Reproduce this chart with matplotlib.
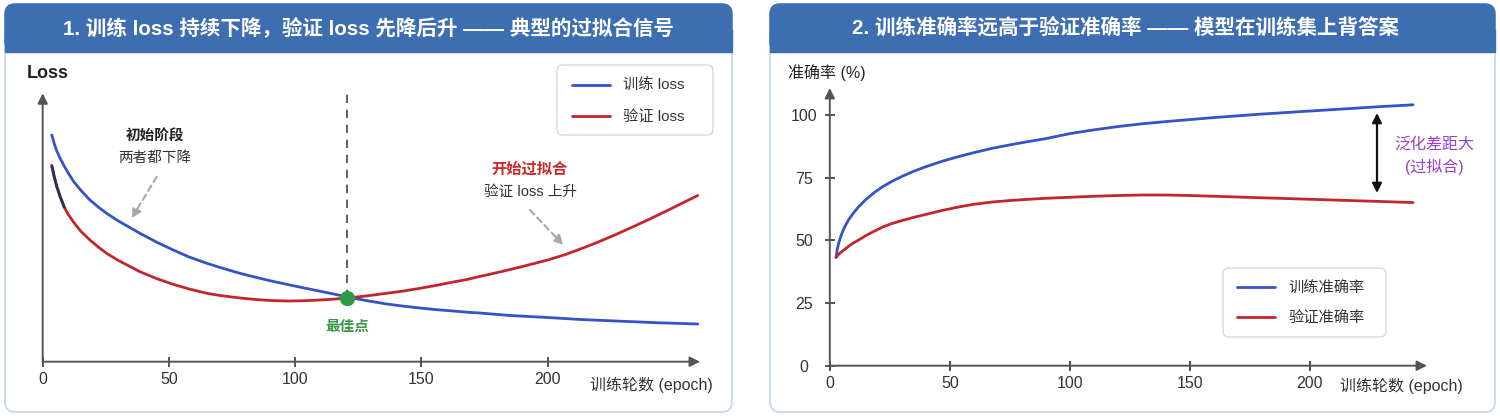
import matplotlib
matplotlib.use("Agg")
import matplotlib.pyplot as plt
from matplotlib.patches import FancyBboxPatch, Rectangle

plt.rcParams["font.family"] = ["Liberation Sans", "Noto Sans CJK SC", "DejaVu Sans"]

# ---------- data ----------
loss_epochs_train = [3.6, 4.5, 5.5, 6.9, 8.5, 10, 12.1, 15, 18.7, 22, 25.3, 30, 38.5, 45,
                     51.7, 58, 65, 70.3, 78.1, 83.4, 90, 96.6, 103, 109.8, 115, 120.4, 128,
                     136.2, 143, 149.4, 156, 162.6, 168, 173, 185, 200, 213, 227, 243, 259.4]
loss_train = [2.267, 2.187, 2.112, 2.034, 1.957, 1.892, 1.807, 1.717, 1.617, 1.547, 1.484,
              1.407, 1.284, 1.197, 1.117, 1.047, 0.984, 0.942, 0.884, 0.850, 0.810, 0.774,
              0.740, 0.705, 0.678, 0.649, 0.612, 0.577, 0.555, 0.537, 0.520, 0.507, 0.495,
              0.487, 0.462, 0.442, 0.422, 0.407, 0.390, 0.377]
loss_epochs_val = [3.6, 4.5, 5.5, 6.9, 8.5, 10, 12.1, 15, 18.7, 22, 25.3, 30, 38.5, 45, 51.7,
                   58, 65, 70.3, 78.1, 83.4, 90, 96.6, 103, 109.8, 115, 120.4, 128, 136.2,
                   143, 149.4, 156, 162.6, 168, 173, 181, 190, 200, 207, 214, 220, 227, 234,
                   240, 247, 253, 259.4]
loss_val = [1.960, 1.857, 1.757, 1.652, 1.547, 1.477, 1.400, 1.307, 1.217, 1.147, 1.084,
            1.012, 0.900, 0.832, 0.774, 0.727, 0.684, 0.662, 0.637, 0.624, 0.612, 0.607,
            0.609, 0.617, 0.625, 0.637, 0.657, 0.684, 0.707, 0.734, 0.764, 0.797, 0.822,
            0.852, 0.897, 0.952, 1.017, 1.072, 1.137, 1.197, 1.272, 1.352, 1.422, 1.507,
            1.582, 1.662]
best_epoch = 120.4
best_loss = 0.637

acc_epochs_train = [2.6, 3, 3.5, 4.2, 5, 6.2, 7.7, 9.5, 11.9, 15, 18.8, 22, 25.8, 30, 35,
                    39.7, 46.6, 53.5, 60, 67.5, 75, 81.3, 90, 100, 110, 120, 130, 140, 150,
                    160, 170, 180, 190, 200, 210, 220, 230, 243]
acc_train = [43.2, 45.8, 48.1, 50.5, 52.7, 55.4, 58, 60.5, 63.3, 66.3, 69.3, 71.4, 73.5,
             75.5, 77.6, 79.3, 81.5, 83.4, 85, 86.7, 88.1, 89.2, 90.6, 92.6, 94.1, 95.4,
             96.5, 97.4, 98.2, 99, 99.7, 100.4, 101, 101.6, 102.2, 102.8, 103.4, 104.1]
acc_epochs_val = [2.6, 4, 6.3, 9, 11.9, 15, 18.8, 22, 25.8, 30, 35, 39.7, 46.6, 53.5, 60,
                  67.5, 75, 81.3, 90, 100, 110, 120, 130, 140, 150, 160, 170, 180, 190, 200,
                  210, 220, 230, 243]
acc_val = [43.2, 44.8, 46.5, 48.5, 50.1, 51.9, 53.8, 55.3, 56.7, 57.9, 59.2, 60.3, 61.9,
           63.3, 64.4, 65.3, 65.9, 66.3, 66.8, 67.2, 67.6, 67.9, 68.1, 68.1, 67.9, 67.6,
           67.3, 67, 66.7, 66.4, 66.1, 65.8, 65.5, 65.1]

loss_xticks = [0, 50, 100, 150, 200]
acc_xticks = [0, 50, 100, 150, 200]
acc_yticks = [0, 25, 50, 75, 100]

TITLE1 = "1. 训练 loss 持续下降，验证 loss 先降后升 —— 典型的过拟合信号"
TITLE2 = "2. 训练准确率远高于验证准确率 —— 模型在训练集上背答案"

BLUE = "#3353c6"
RED = "#c3252d"
GREEN = "#2e9a46"
HEADER = "#3e6eb2"
BORDER = "#c6d9ef"
AXC = "#555555"
PURPLE = "#9b3fc8"

W, H = 1500, 416
fig = plt.figure(figsize=(W / 100, H / 100), dpi=100)

bg = fig.add_axes([0, 0, 1, 1])
bg.set_xlim(0, W)
bg.set_ylim(H, 0)
bg.axis("off")


def card(x0, x1, title, tx):
    y0, y1, hb = 4, 412, 52
    bg.add_patch(FancyBboxPatch((x0, y0), x1 - x0, y1 - y0,
                                boxstyle="round,pad=0,rounding_size=10",
                                fc="white", ec=BORDER, lw=1.3))
    bg.add_patch(FancyBboxPatch((x0, y0), x1 - x0, hb - y0,
                                boxstyle="round,pad=0,rounding_size=10",
                                fc=HEADER, ec=HEADER, lw=1.0))
    bg.add_patch(Rectangle((x0, 30), x1 - x0, hb - 30, fc=HEADER, ec=HEADER, lw=1.0))
    bg.text(tx, 28.5, title, color="white", fontsize=14.8, fontweight="bold",
            ha="center", va="center")


def legend_box(x0, y0, x1, y1):
    bg.add_patch(FancyBboxPatch((x0, y0), x1 - x0, y1 - y0,
                                boxstyle="round,pad=0,rounding_size=6",
                                fc="white", ec="#d9d9d9", lw=1.0))


card(5, 732, TITLE1, 368)
card(770, 1495, TITLE2, 1126)
legend_box(557, 65, 713, 135)
legend_box(1223, 268, 1386, 337)


def px_axes(x0, x1, ytop, ybot):
    a = fig.add_axes([x0 / W, 1 - ybot / H, (x1 - x0) / W, (ybot - ytop) / H])
    a.set_facecolor("none")
    for s in a.spines.values():
        s.set_visible(False)
    for xy in ((1, 0), (0, 1)):
        a.annotate("", xy=xy, xytext=(0, 0), xycoords="axes fraction",
                   arrowprops=dict(arrowstyle="-|>", color=AXC, lw=1.4,
                                   mutation_scale=15, shrinkA=0, shrinkB=0),
                   annotation_clip=False)
    return a


def add_legend(ax, x, y, spacing):
    leg = ax.legend(loc="upper left", bbox_to_anchor=(x / W, 1 - y / H),
                    bbox_transform=fig.transFigure, fontsize=11, frameon=False,
                    handlelength=2.5, handletextpad=0.85, labelspacing=spacing,
                    borderpad=0, borderaxespad=0)
    for t in leg.get_texts():
        t.set_color("#333333")


# ---------- panel 1: loss ----------
ax1 = px_axes(42.7, 700, 93.3, 361.7)
ax1.set_xlim(0, 260.3)
ax1.set_ylim(0, 2.684)
ax1.plot(loss_epochs_train, loss_train, color=BLUE, lw=2.0, label="训练 loss",
         solid_capstyle="round", solid_joinstyle="round")
ax1.plot(loss_epochs_val, loss_val, color=RED, lw=2.0, label="验证 loss",
         solid_capstyle="round", solid_joinstyle="round")
ax1.plot(loss_epochs_val[:5], loss_val[:5], color="#2b2f5c", lw=2.0,
         solid_capstyle="round")
ax1.plot([best_epoch, best_epoch], [best_loss, 2.684], color="#444444", lw=1.2,
         ls=(0, (5, 4)), zorder=1)
ax1.plot(best_epoch, best_loss, "o", color=GREEN, ms=10, zorder=5)
ax1.set_xticks(loss_xticks)
ax1.set_yticks([])
ax1.tick_params(axis="x", direction="inout", length=7, width=1.3, color="#444444",
                labelsize=11.5, labelcolor="#333333", pad=4)
add_legend(ax1, 572, 79, 1.15)

bg.text(26.7, 73, "Loss", fontsize=13, fontweight="bold", color="#222222",
        ha="left", va="center")
bg.text(155, 137, "初始阶段", fontsize=10.5, fontweight="bold", color="#222222",
        ha="center", va="center")
bg.text(155, 158, "两者都下降", fontsize=10.5, color="#333333", ha="center", va="center")
bg.annotate("", xy=(131.7, 218.3), xytext=(156.7, 176.7),
            arrowprops=dict(arrowstyle="-|>", color="#a8a8a8", lw=1.5, ls=(0, (3, 2)),
                            mutation_scale=14, shrinkA=0, shrinkB=0))
bg.text(529, 169, "开始过拟合", fontsize=11, fontweight="bold", color="#cc2a2a",
        ha="center", va="center")
bg.text(530, 192, "验证 loss 上升", fontsize=10.5, color="#333333", ha="center",
        va="center")
bg.annotate("", xy=(563.3, 245), xytext=(530, 210),
            arrowprops=dict(arrowstyle="-|>", color="#a8a8a8", lw=1.5, ls=(0, (3, 2)),
                            mutation_scale=14, shrinkA=0, shrinkB=0))
bg.text(347, 327, "最佳点", fontsize=10.5, fontweight="bold", color="#3a9a4a",
        ha="center", va="center")
bg.text(590, 385, "训练轮数 (epoch)", fontsize=11.5, color="#333333", ha="left",
        va="center")

# ---------- panel 2: accuracy ----------
ax2 = px_axes(829.8, 1427, 88, 365.7)
ax2.set_xlim(0, 248.8)
ax2.set_ylim(0, 110.8)
ax2.plot(acc_epochs_train, acc_train, color=BLUE, lw=2.0, label="训练准确率",
         solid_capstyle="round", solid_joinstyle="round")
ax2.plot(acc_epochs_val, acc_val, color=RED, lw=2.0, label="验证准确率",
         solid_capstyle="round", solid_joinstyle="round")
ax2.set_xticks(acc_xticks)
ax2.set_yticks(acc_yticks)
ax2.tick_params(direction="inout", length=7, width=1.3, color="#444444",
                labelsize=11.5, labelcolor="#333333")
ax2.tick_params(axis="x", pad=4)
ax2.tick_params(axis="y", pad=15)
for lbl in ax2.get_yticklabels():
    lbl.set_horizontalalignment("center")
add_legend(ax2, 1237, 281.5, 1.05)

bg.text(788, 73, "准确率 (%)", fontsize=11.5, color="#222222", ha="left", va="center")
bg.annotate("", xy=(1377, 193), xytext=(1377, 113),
            arrowprops=dict(arrowstyle="<|-|>", color="#111111", lw=1.6,
                            mutation_scale=14, shrinkA=0, shrinkB=0))
bg.text(1434, 144, "泛化差距大", fontsize=11.5, color=PURPLE, ha="center", va="center")
bg.text(1434, 167, "(过拟合)", fontsize=11.5, color=PURPLE, ha="center", va="center")
bg.text(1340, 386, "训练轮数 (epoch)", fontsize=11.5, color="#333333", ha="left",
        va="center")

fig.savefig("out.png", dpi=100)
